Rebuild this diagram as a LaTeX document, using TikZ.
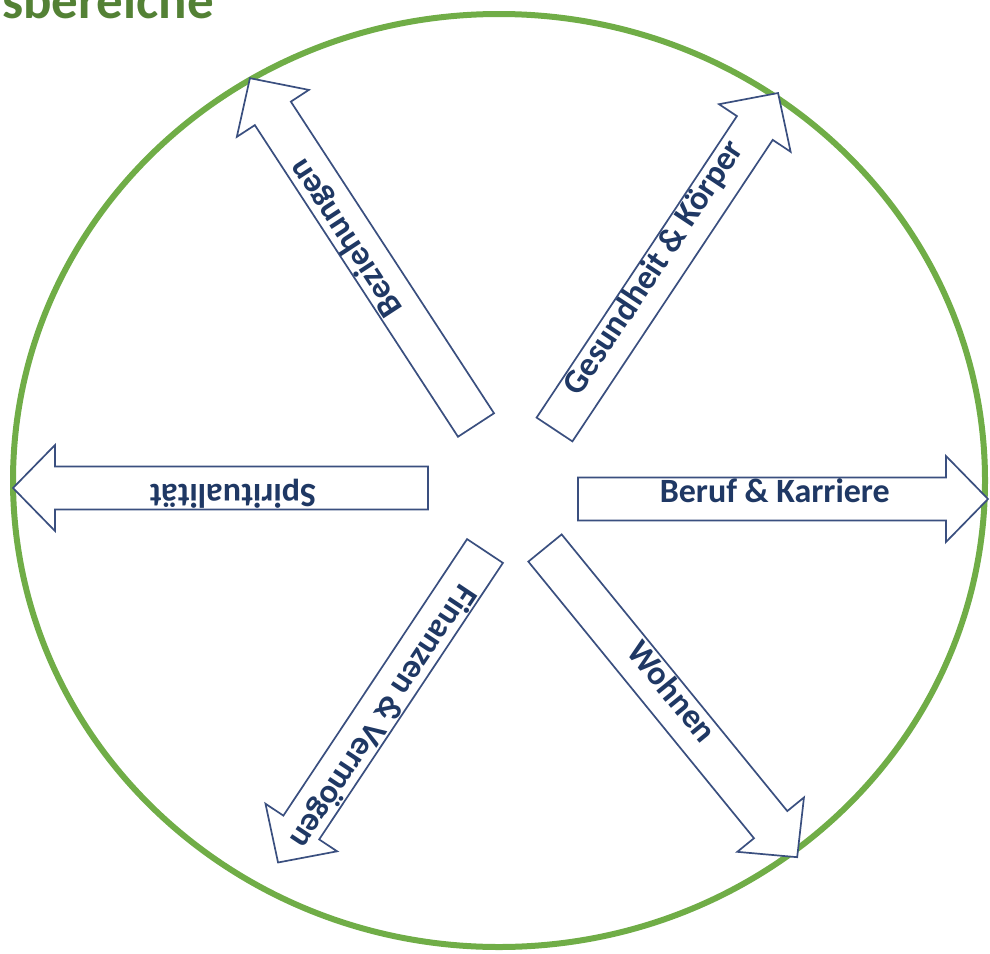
\documentclass[tikz,border=0pt]{standalone}
\usepackage{fontspec}
\setmainfont{Carlito}
\usetikzlibrary{calc}
\definecolor{lifegreen}{HTML}{70AD47}
\definecolor{titlegreen}{HTML}{538135}
\definecolor{arrowblue}{HTML}{3A4F7F}
\definecolor{textnavy}{HTML}{1F3864}

\begin{document}
\begin{tikzpicture}[
    x=1pt, y=1pt,
    blockarrow/.style={
        draw=arrowblue,
        fill=white,
        line width=1.7pt,
        line join=miter
    },
    arrowlabel/.style={
        font=\bfseries\fontsize{34}{38}\selectfont,
        text=textnavy,
        text height=0.64em,
        text depth=0pt,
        inner sep=0pt
    }
]

% --- CANVAS ---
\useasboundingbox (0,-953) rectangle (990,0);
\clip (0,-953) rectangle (990,0);

% --- MACRO: DRAW BLOCK ARROW ---
\newcommand{\drawlifearrow}[6]{
    \begin{scope}[shift={#2}, rotate=#3]
        \draw[blockarrow] (0,-21.5) -- ({#4-42},-21.5) -- ({#4-42},-43)
            -- (#4,0) -- ({#4-42},43) -- ({#4-42},21.5) -- (0,21.5) -- cycle;
        \node[arrowlabel, rotate=#3] (#1) at ({#6*#4},0) {#5};
    \end{scope}
}

% --- TITLE ---
\node[anchor=base west, inner sep=0pt, text=titlegreen,
      font=\bfseries\fontsize{53}{60}\selectfont] (title) at (2,-18) {sbereiche};

% --- CIRCLE ---
\draw[lifegreen, line width=6pt] (499,-480.5) ellipse [x radius=486pt, y radius=466.5pt];

% --- ARROWS ---
\drawlifearrow{beruf}{(578,-499)}{0}{410}{Beruf \& Karriere}{0.48}
\drawlifearrow{spirit}{(428,-488)}{180}{415}{Spiritualität}{0.47}
\drawlifearrow{bez}{(476,-425)}{123.1}{414}{Beziehungen}{0.55}
\drawlifearrow{ges}{(554.5,-429.5)}{56.4}{404}{Gesundheit \& Körper}{0.47}
\drawlifearrow{fin}{(485,-551)}{236.4}{374}{Finanzen \& Vermögen}{0.52}
\drawlifearrow{wohn}{(545,-548)}{-50.8}{399}{Wohnen}{0.48}

\end{tikzpicture}
\end{document}
